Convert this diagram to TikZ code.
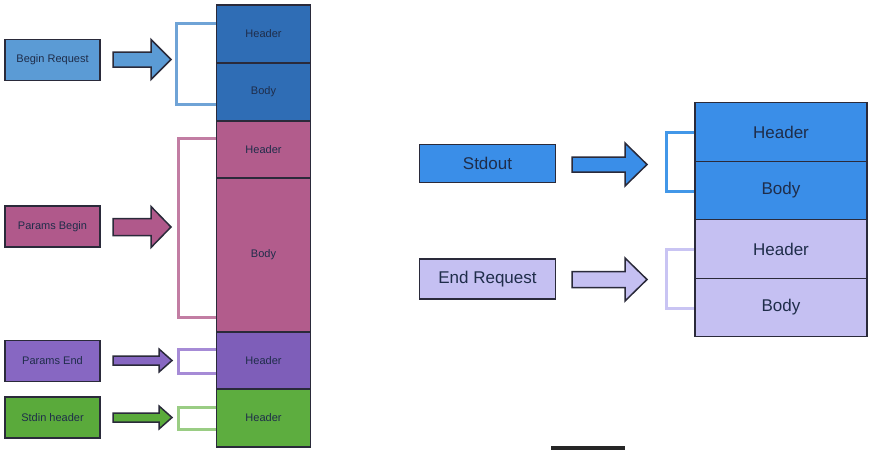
\documentclass[tikz,border=0pt]{standalone}
\usepackage{fontspec}
\setmainfont{Liberation Sans}
\definecolor{stackblue}{HTML}{2F6DB5}
\definecolor{boxblue}{HTML}{5B9BD5}
\definecolor{brblue}{HTML}{6FA3D6}
\definecolor{stackpink}{HTML}{B25C8C}
\definecolor{boxpink}{HTML}{B0598B}
\definecolor{brpink}{HTML}{C27DA3}
\definecolor{stackpurple}{HTML}{7E5EB9}
\definecolor{boxpurple}{HTML}{8767C2}
\definecolor{brpurple}{HTML}{A68BD6}
\definecolor{stackgreen}{HTML}{5DAD3F}
\definecolor{boxgreen}{HTML}{5AAA3B}
\definecolor{brgreen}{HTML}{9ACD84}
\definecolor{rblue}{HTML}{3A8EE8}
\definecolor{rbrblue}{HTML}{4297E8}
\definecolor{lav}{HTML}{C5C0F2}
\definecolor{brlav}{HTML}{C9C4F3}
\definecolor{edge}{HTML}{2A2A3A}
\definecolor{txt}{HTML}{1F2D4A}
\newcommand\blockarrow[7]{%
  \draw[arr, fill=#7] (#1,{#4-#5}) -- (#2,{#4-#5}) -- (#2,{#4-#6}) -- (#3,#4)
     -- (#2,{#4+#6}) -- (#2,{#4+#5}) -- (#1,{#4+#5}) -- cycle;}
\begin{document}
\begin{tikzpicture}[x=1pt,y=-1pt,
  cell/.style={draw=edge, line width=1.3pt, minimum width=94pt, inner sep=0pt,
     text=txt, font=\fontsize{11}{13}\selectfont},
  rcell/.style={draw=edge, line width=1.3pt, minimum width=172pt, minimum height=58.5pt,
     inner sep=0pt, text=txt, font=\fontsize{17}{20}\selectfont},
  lbox/.style={draw=edge, line width=1.5pt, minimum width=95pt, minimum height=41pt,
     inner sep=0pt, text=txt, font=\fontsize{11}{13}\selectfont},
  rbox/.style={draw=edge, line width=1.5pt, minimum width=136pt, minimum height=38pt,
     inner sep=0pt, text=txt, font=\fontsize{17}{20}\selectfont},
  arr/.style={draw=edge, line width=1.5pt, line join=miter},
  bracket/.style={line width=3pt}]
\useasboundingbox (0,0) rectangle (873,450);
\fill[white] (0,0) rectangle (873,450);

% left stack
\node[cell, fill=stackblue, minimum height=58pt] (h1) at (263.5,34) {Header};
\node[cell, fill=stackblue, minimum height=58pt] (b1) at (263.5,92) {Body};
\node[cell, fill=stackpink, minimum height=57pt] (h2) at (263.5,149.5) {Header};
\node[cell, fill=stackpink, minimum height=154pt] (b2) at (263.5,255) {Body};
\node[cell, fill=stackpurple, minimum height=57pt] (h3) at (263.5,360.5) {Header};
\node[cell, fill=stackgreen, minimum height=58pt] (h4) at (263.5,418) {Header};

% left labels
\node[lbox, fill=boxblue] (br) at (52.5,60) {Begin Request};
\node[lbox, fill=boxpink] (pb) at (52.5,226.5) {Params Begin};
\node[lbox, fill=boxpurple] (pe) at (52.5,361) {Params End};
\node[lbox, fill=boxgreen] (si) at (52.5,417.5) {Stdin header};

% left brackets
\draw[bracket, draw=brblue] (h1.west |- 0,23) -| (176,104) -- (b1.west |- 0,104);
\draw[bracket, draw=brpink] (h2.west |- 0,138) -| (178,317) -- (b2.west |- 0,317);
\draw[bracket, draw=brpurple] (h3.west |- 0,349) -| (178,373) -- (h3.west |- 0,373);
\draw[bracket, draw=brgreen] (h4.west |- 0,407) -| (178,429) -- (h4.west |- 0,429);

% left arrows
\blockarrow{113}{151}{171}{59.5}{7.5}{20}{boxblue}
\blockarrow{113}{151}{171}{227}{8.5}{20.5}{boxpink}
\blockarrow{113}{159}{172}{360.5}{4.5}{11.5}{boxpurple}
\blockarrow{113}{159}{172}{417.5}{4.5}{11.5}{boxgreen}

% right stack
\node[rcell, fill=rblue] (rh1) at (781,132) {Header};
\node[rcell, fill=rblue] (rb1) at (781,190.5) {Body};
\node[rcell, fill=lav] (rh2) at (781,249) {Header};
\node[rcell, fill=lav] (rb2) at (781,307.5) {Body};

% right labels
\node[rbox, fill=rblue] (so) at (487.5,163.5) {Stdout};
\node[rbox, fill=lav, minimum height=40pt] (er) at (487.5,279) {End Request};

% right brackets
\draw[bracket, draw=rbrblue] (rh1.west |- 0,132) -| (666,191) -- (rb1.west |- 0,191);
\draw[bracket, draw=brlav] (rh2.west |- 0,249) -| (666,308) -- (rb2.west |- 0,308);

% right arrows
\blockarrow{572}{625}{647}{164.5}{7.5}{21.5}{rblue}
\blockarrow{572}{625}{647}{279.5}{8}{21.5}{lav}

% bottom bar
\fill[black!85] (551,446) rectangle (625,450);
\end{tikzpicture}
\end{document}
